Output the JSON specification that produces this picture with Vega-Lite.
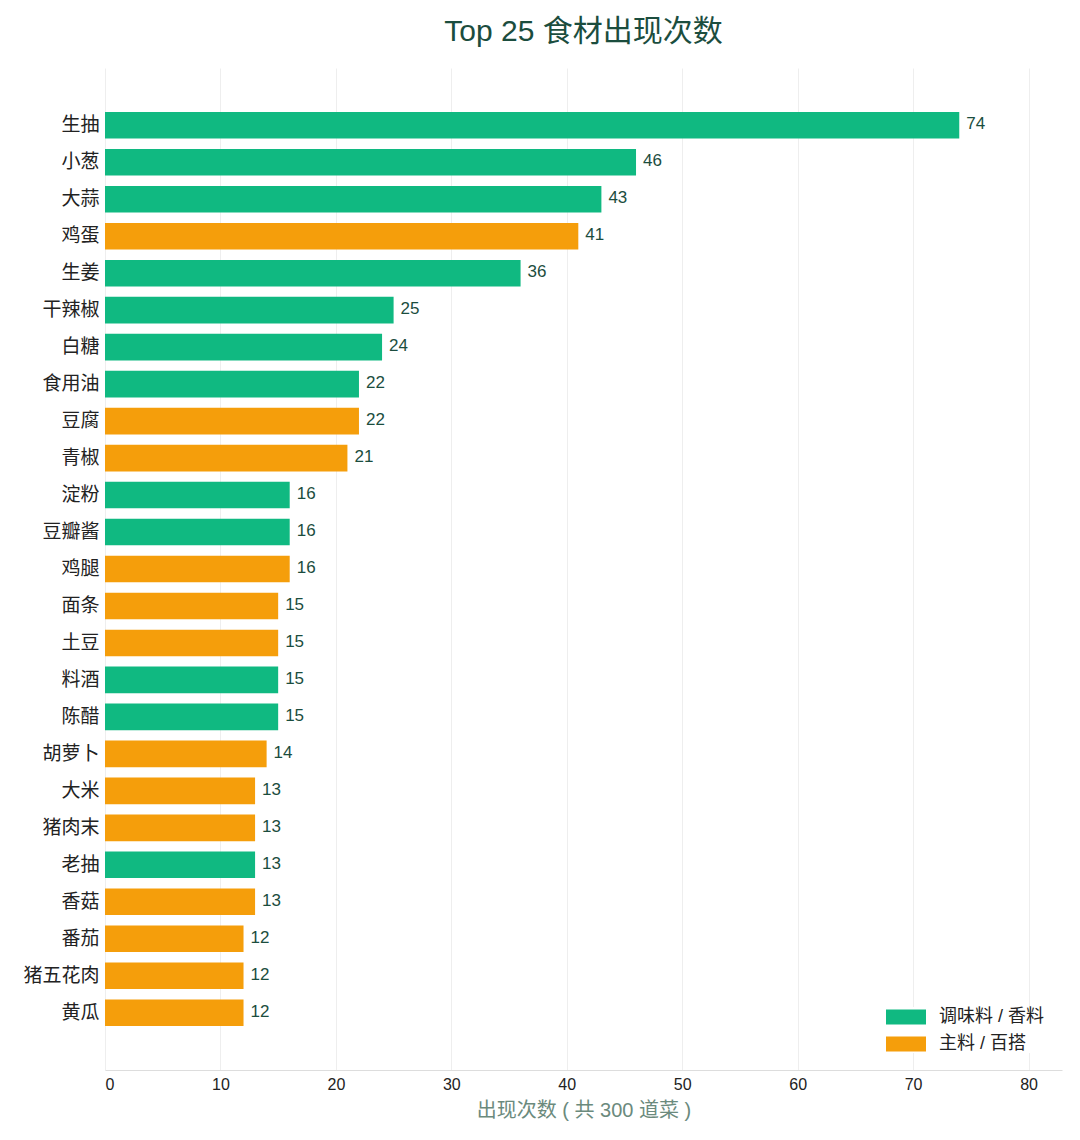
{
  "$schema": "https://vega.github.io/schema/vega-lite/v6.json",
  "width": 957,
  "height": 1002,
  "autosize": {"type": "none"},
  "padding": {"left": 105, "top": 68, "right": 18, "bottom": 70},
  "background": "white",
  "title": {
    "text": "Top 25 食材出现次数",
    "font": "Liberation Sans, Noto Sans CJK SC",
    "fontSize": 30,
    "fontWeight": "normal",
    "color": "#1b4d3e",
    "anchor": "middle",
    "offset": 21
  },
  "data": {
    "values": [
      {"ingredient": "生抽", "count": 74, "type": "调味料 / 香料"},
      {"ingredient": "小葱", "count": 46, "type": "调味料 / 香料"},
      {"ingredient": "大蒜", "count": 43, "type": "调味料 / 香料"},
      {"ingredient": "鸡蛋", "count": 41, "type": "主料 / 百搭"},
      {"ingredient": "生姜", "count": 36, "type": "调味料 / 香料"},
      {"ingredient": "干辣椒", "count": 25, "type": "调味料 / 香料"},
      {"ingredient": "白糖", "count": 24, "type": "调味料 / 香料"},
      {"ingredient": "食用油", "count": 22, "type": "调味料 / 香料"},
      {"ingredient": "豆腐", "count": 22, "type": "主料 / 百搭"},
      {"ingredient": "青椒", "count": 21, "type": "主料 / 百搭"},
      {"ingredient": "淀粉", "count": 16, "type": "调味料 / 香料"},
      {"ingredient": "豆瓣酱", "count": 16, "type": "调味料 / 香料"},
      {"ingredient": "鸡腿", "count": 16, "type": "主料 / 百搭"},
      {"ingredient": "面条", "count": 15, "type": "主料 / 百搭"},
      {"ingredient": "土豆", "count": 15, "type": "主料 / 百搭"},
      {"ingredient": "料酒", "count": 15, "type": "调味料 / 香料"},
      {"ingredient": "陈醋", "count": 15, "type": "调味料 / 香料"},
      {"ingredient": "胡萝卜", "count": 14, "type": "主料 / 百搭"},
      {"ingredient": "大米", "count": 13, "type": "主料 / 百搭"},
      {"ingredient": "猪肉末", "count": 13, "type": "主料 / 百搭"},
      {"ingredient": "老抽", "count": 13, "type": "调味料 / 香料"},
      {"ingredient": "香菇", "count": 13, "type": "主料 / 百搭"},
      {"ingredient": "番茄", "count": 12, "type": "主料 / 百搭"},
      {"ingredient": "猪五花肉", "count": 12, "type": "主料 / 百搭"},
      {"ingredient": "黄瓜", "count": 12, "type": "主料 / 百搭"}
    ]
  },
  "encoding": {
    "y": {
      "field": "ingredient",
      "type": "nominal",
      "sort": null,
      "title": null,
      "scale": {"paddingInner": 0.28, "paddingOuter": 1, "range": [7, 995]},
      "axis": {
        "domain": false,
        "ticks": false,
        "grid": false,
        "labelFont": "Noto Sans CJK SC",
        "labelFontSize": 19,
        "labelColor": "#222222",
        "labelPadding": 6
      }
    },
    "x": {
      "field": "count",
      "type": "quantitative",
      "title": "出现次数 ( 共 300 道菜 )",
      "scale": {"domain": [0, 82.9], "nice": false},
      "axis": {
        "values": [0, 10, 20, 30, 40, 50, 60, 70, 80],
        "grid": false,
        "domainColor": "#dddddd",
        "ticks": true,
        "tickSize": -1002,
        "tickColor": "#eeeeee",
        "labelFont": "Liberation Sans",
        "labelFontSize": 16,
        "labelColor": "#222222",
        "labelPadding": 1008,
        "titleFont": "Liberation Sans, Noto Sans CJK SC",
        "titleFontSize": 20,
        "titleFontWeight": "normal",
        "titleColor": "#6b8a7d",
        "titlePadding": 8
      }
    }
  },
  "layer": [
    {
      "mark": {"type": "bar"},
      "encoding": {
        "color": {
          "field": "type",
          "type": "nominal",
          "scale": {
            "domain": ["调味料 / 香料", "主料 / 百搭"],
            "range": ["#10b981", "#f59e0b"]
          },
          "legend": {
            "title": null,
            "orient": "bottom-right",
            "offset": 17,
            "symbolType": "M-2,-0.75L2,-0.75L2,0.75L-2,0.75Z",
            "symbolSize": 400,
            "symbolStrokeWidth": 0,
            "labelFont": "Liberation Sans, Noto Sans CJK SC",
            "labelFontSize": 18,
            "labelColor": "#222222",
            "labelOffset": 23,
            "rowPadding": 8,
            "fillColor": "white"
          }
        }
      }
    },
    {
      "mark": {
        "type": "text",
        "align": "left",
        "baseline": "middle",
        "dx": 7,
        "dy": -1,
        "font": "Liberation Sans",
        "fontSize": 17,
        "color": "#1b4d3e"
      },
      "encoding": {
        "text": {"field": "count", "type": "quantitative"}
      }
    }
  ],
  "config": {
    "view": {"stroke": null}
  }
}
